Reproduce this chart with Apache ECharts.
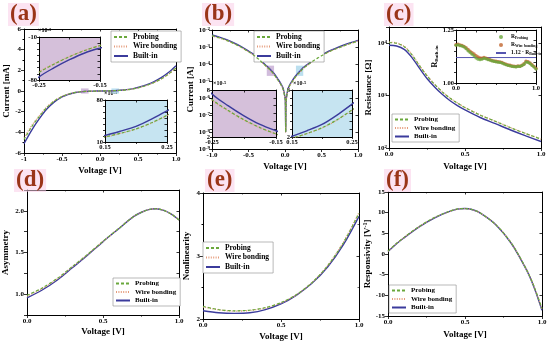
<!DOCTYPE html>
<html><head><meta charset="utf-8">
<script src="https://cdn.jsdelivr.net/npm/echarts@6/dist/echarts.min.js"></script>
<style>html,body{margin:0;padding:0;background:#fff}#c{width:550px;height:343px}</style>
</head><body><div id="c"></div>
<script>
// ---------------- data ----------------
const ivV=[-1.0,-0.9,-0.8,-0.7,-0.6,-0.5,-0.45,-0.4,-0.35,-0.3,-0.25,-0.225,-0.2,-0.175,-0.15,-0.1,-0.05,-0.025,0,0.005,0.01,0.015,0.025,0.05,0.1,0.15,0.175,0.2,0.225,0.25,0.3,0.35,0.4,0.45,0.5,0.6,0.7,0.8,0.9,1.0];
const ivBuilt=[-5.10,-3.80,-2.70,-1.75,-1.05,-0.58,-0.42,-0.29,-0.19,-0.118,-0.075,-0.060,-0.047,-0.036,-0.028,-0.0135,-0.0062,-0.0036,-0.0011,-0.00055,0.00001,0.00055,0.0016,0.0045,0.0105,0.021,0.028,0.036,0.048,0.062,0.090,0.130,0.185,0.255,0.340,0.570,0.870,1.270,1.790,2.450];
const ivProbing=[-4.70,-3.48,-2.47,-1.60,-0.96,-0.53,-0.385,-0.265,-0.174,-0.108,-0.068,-0.054,-0.042,-0.032,-0.024,-0.0118,-0.0055,-0.0032,-0.0010,-0.0005,0.00001,0.0005,0.0014,0.0040,0.0093,0.0185,0.0245,0.0318,0.0420,0.0545,0.081,0.117,0.166,0.229,0.305,0.515,0.785,1.150,1.620,2.230];
const ivWire=[-4.50,-3.36,-2.40,-1.56,-0.94,-0.52,-0.380,-0.262,-0.172,-0.107,-0.067,-0.0535,-0.0415,-0.0318,-0.0238,-0.0117,-0.0055,-0.0032,-0.0010,-0.0005,0.00001,0.0005,0.0014,0.0040,0.0092,0.0183,0.0243,0.0315,0.0415,0.0540,0.080,0.116,0.164,0.227,0.302,0.510,0.778,1.140,1.610,2.210];
const zoomNeg=[-0.25,-0.15];
const zoomPos=[0.15,0.25];

const resV=[0,0.05,0.1,0.15,0.2,0.25,0.3,0.35,0.4,0.45,0.5,0.6,0.7,0.8,0.9,1.0];
const resBuilt=[9000,8700,7500,5300,3300,2100,1450,1050,800,640,530,380,290,220,170,133];
const resProbing=[10100,9800,8450,5950,3700,2360,1620,1170,890,712,588,421,321,243,188,147];
const resWire=[10300,9950,8600,6050,3760,2390,1640,1185,900,720,594,425,324,245,189,148];

const ratioV=[0,0.025,0.05,0.075,0.1,0.125,0.15,0.175,0.2,0.225,0.25,0.275,0.3,0.325,0.35,0.375,0.4,0.425,0.45,0.475,0.5,0.525,0.55,0.575,0.6,0.625,0.65,0.675,0.7,0.725,0.75,0.775,0.8,0.825,0.85,0.875,0.9,0.925,0.95,0.975,1.0];
const ratioWire=[1.180,1.182,1.179,1.177,1.172,1.166,1.158,1.150,1.142,1.136,1.128,1.122,1.118,1.116,1.120,1.117,1.113,1.110,1.106,1.104,1.102,1.100,1.099,1.097,1.092,1.088,1.085,1.083,1.080,1.079,1.078,1.080,1.079,1.084,1.090,1.102,1.100,1.094,1.086,1.078,1.068];
const ratioProbing=[1.178,1.180,1.176,1.174,1.170,1.162,1.152,1.144,1.136,1.128,1.118,1.112,1.110,1.112,1.116,1.114,1.110,1.108,1.104,1.102,1.100,1.098,1.097,1.094,1.090,1.086,1.083,1.081,1.078,1.077,1.076,1.078,1.078,1.082,1.088,1.098,1.097,1.091,1.083,1.075,1.066];
const ratioLineV=[0,1];
const ratioLineY=[1.12,1.12];

const asymV=[0,0.1,0.2,0.3,0.4,0.5,0.6,0.7,0.75,0.8,0.85,0.9,0.95,1.0];
const asymBuilt=[0.955,1.05,1.17,1.32,1.47,1.63,1.78,1.93,1.98,2.015,2.025,2.005,1.96,1.89];
const asymProbing=[0.985,1.075,1.19,1.335,1.48,1.635,1.783,1.93,1.98,2.015,2.025,2.005,1.96,1.89];
const asymWire=[0.975,1.067,1.185,1.33,1.477,1.633,1.782,1.93,1.98,2.015,2.025,2.005,1.96,1.89];

const nlV=[0,0.1,0.2,0.3,0.4,0.5,0.6,0.7,0.8,0.9,1.0];
const nlBuilt=[2.13,2.10,2.09,2.10,2.15,2.24,2.38,2.57,2.83,3.18,3.63];
const nlProbing=[2.20,2.15,2.13,2.14,2.18,2.26,2.39,2.58,2.85,3.21,3.68];
const nlWire=[2.19,2.145,2.125,2.135,2.175,2.255,2.385,2.58,2.85,3.22,3.69];

const respV=[0,0.05,0.1,0.2,0.3,0.4,0.45,0.5,0.55,0.6,0.7,0.8,0.9,0.95,1.0];
const respBuilt=[0.6,2.3,3.8,6.5,8.7,10.3,10.85,11.0,10.7,9.9,7.1,2.6,-3.9,-8.2,-13.6];
const respProbing=[0.7,2.4,3.9,6.6,8.8,10.35,10.9,11.0,10.7,9.9,7.1,2.7,-3.8,-8.0,-13.2];
const respWire=[0.65,2.35,3.85,6.55,8.75,10.3,10.85,11.0,10.7,9.9,7.1,2.65,-3.85,-8.1,-13.4];

const seriesNames=['Probing','Wire bonding','Built-in'];
const panelLabels=['(a)','(b)','(c)','(d)','(e)','(f)'];

// ---------------- helpers ----------------
const F='"Liberation Serif", "Times New Roman", serif';
function merge(a,b){for(const k in b){const v=b[k];if(v&&typeof v==='object'&&!Array.isArray(v)){a[k]=merge(a[k]&&typeof a[k]==='object'?a[k]:{},v);}else a[k]=v;}return a;}
function base(){return {axisLine:{show:true,onZero:false,lineStyle:{color:'#000',width:1}},
  axisTick:{show:true,length:3,lineStyle:{color:'#000',width:0.8}},
  splitLine:{show:false},
  axisLabel:{fontFamily:F,fontWeight:'bold',fontSize:7,color:'#000',margin:3},
  nameTextStyle:{fontFamily:F,fontWeight:'bold',fontSize:9,color:'#000'}};}
const grids=[],xAxes=[],yAxes=[],series=[],legends=[],graphics=[];
function mirror(o,gi,pos){return merge(base(),{gridIndex:gi,type:o.type||'value',min:o.min,max:o.max,interval:o.interval,position:pos,
  axisLabel:{show:false},axisTick:{inside:true,length:2.5},
  minorTick:o.minorTick?{show:true,splitNumber:o.minorTick.splitNumber,length:1.5,lineStyle:{color:'#000',width:0.6}}:{show:false}});}
function addGrid(rect,xo,yo,bg){
  const gi=grids.length;
  grids.push(Object.assign({show:!!bg,backgroundColor:bg||'transparent',borderWidth:0,containLabel:false},rect));
  const xi=xAxes.length,yi=yAxes.length;
  xAxes.push(merge(merge(base(),{gridIndex:gi,type:'value',position:'bottom'}),xo));
  yAxes.push(merge(merge(base(),{gridIndex:gi,type:'value',position:'left'}),yo));
  xAxes.push(mirror(xo,gi,'top'));
  yAxes.push(mirror(yo,gi,'right'));
  return {xi,yi};
}
const ST={'Probing':{color:'#6aa83c',type:[3,2],width:1.2,z:4},
          'Wire bonding':{color:'#e59b7b',type:[1,1.4],width:1.3,z:3},
          'Built-in':{color:'#3b3b9c',type:'solid',width:1.4,z:2}};
function line(name,xs,ys,ax,extra){
  const s=ST[name];
  series.push(Object.assign({name,type:'line',xAxisIndex:ax.xi,yAxisIndex:ax.yi,
    data:xs.map((x,i)=>[x,ys[i]]),showSymbol:false,symbol:'none',smooth:0.3,z:s.z,
    lineStyle:{color:s.color,type:s.type,width:s.width},itemStyle:{color:s.color},silent:true},extra||{}));
}
function three(xs,b,p,w,ax,map){
  const f=map||(v=>v);
  line('Built-in',xs,b.map(f),ax);
  line('Wire bonding',xs,w.map(f),ax);
  line('Probing',xs,p.map(f),ax);
}
function legend(left,top,fs){
  legends.push({left,top,orient:'vertical',data:seriesNames,itemWidth:14,itemHeight:6,itemGap:1.5,
    itemStyle:{opacity:0},
    textStyle:{fontFamily:F,fontWeight:'bold',fontSize:fs||7,color:'#000'},
    borderColor:'#8a8a8a',borderWidth:0.6,padding:[2,4,2,2],backgroundColor:'#fff',selectedMode:false});
}
const near=(a,b)=>Math.abs(a-b)<1e-9;
function minmaxFmt(min,max,fn){return v=>(near(v,min)||near(v,max))?fn(v):'';}
const fx1=v=>near(v,-1)?'-1':(near(v,0)?'0.0':v.toFixed(1));
const fx1b=v=>near(v,0)?'0.0':v.toFixed(1);
const richSup={b:{fontFamily:F,fontWeight:'bold',fontSize:7,color:'#000'},s:{fontFamily:F,fontWeight:'bold',fontSize:5,color:'#000',verticalAlign:'top',lineHeight:5}};
const powFmt=v=>{const e=Math.log10(v);return near(e,Math.round(e))?'{b|10}{s|'+Math.round(e)+'}':'';};
const supName={s:{fontSize:4.5,fontFamily:F,fontWeight:'bold',verticalAlign:'top',lineHeight:4}};

// ---------------- (a) ----------------
const A=addGrid({left:24,top:29,width:152,height:124},
  {min:-1,max:1,interval:0.5,axisLabel:{formatter:fx1},name:'Voltage [V]',nameLocation:'middle',nameGap:13,minorTick:{show:true,splitNumber:2,length:1.5}},
  {min:-6,max:6,interval:2,name:'Current [mA]',nameLocation:'middle',nameGap:11,minorTick:{show:true,splitNumber:2,length:1.5}});
three(ivV,ivBuilt,ivProbing,ivWire,A);
series[series.length-3].markArea={silent:true,itemStyle:{color:'rgba(190,160,205,0.7)'},data:[[{xAxis:zoomNeg[0],yAxis:-0.25},{xAxis:zoomNeg[1],yAxis:0.25}],[{xAxis:zoomPos[0],yAxis:-0.25,itemStyle:{color:'rgba(170,215,235,0.8)'}},{xAxis:zoomPos[1],yAxis:0.25}]]};
legend(111,31,7.5);
const insetAx={fontSize:6.5,margin:2};
const A1=addGrid({left:39,top:37,width:61,height:43},
  {min:zoomNeg[0],max:zoomNeg[1],interval:0.05,axisLabel:Object.assign({formatter:minmaxFmt(zoomNeg[0],zoomNeg[1],v=>v.toFixed(2))},insetAx),axisTick:{length:2}},
  {min:-80,max:-10,interval:10,axisLabel:Object.assign({formatter:minmaxFmt(-80,-10,v=>String(v))},insetAx),axisTick:{length:2},
   name:'×10{s|-3}',nameLocation:'end',nameGap:1,nameTextStyle:{fontSize:6,align:'left',padding:[0,0,0,-1],rich:supName}},
  '#d5c0da');
three(ivV,ivBuilt,ivProbing,ivWire,A1,v=>v*1000);
const A2=addGrid({left:105,top:100,width:62,height:42},
  {min:zoomPos[0],max:zoomPos[1],interval:0.05,axisLabel:Object.assign({formatter:minmaxFmt(zoomPos[0],zoomPos[1],v=>v.toFixed(2))},insetAx),axisTick:{length:2}},
  {min:10,max:80,interval:10,axisLabel:Object.assign({formatter:minmaxFmt(10,80,v=>String(v))},insetAx),axisTick:{length:2},
   name:'×10{s|-3}',nameLocation:'end',nameGap:1,nameTextStyle:{fontSize:6,align:'left',padding:[0,0,0,-1],rich:supName}},
  '#c6e4f1');
three(ivV,ivBuilt,ivProbing,ivWire,A2,v=>v*1000);

// ---------------- (b) ----------------
const toA=v=>Math.abs(v)/1000;
const B=addGrid({left:212,top:30,width:146,height:119},
  {min:-1,max:1,interval:0.5,axisLabel:{formatter:fx1b},name:'Voltage [V]',nameLocation:'middle',nameGap:13,minorTick:{show:true,splitNumber:2,length:1.5}},
  {type:'log',logBase:10,min:1e-9,max:1e-2,interval:1,axisLabel:{formatter:powFmt,rich:richSup,margin:2},name:'Current [A]',nameLocation:'middle',nameGap:17});
three(ivV,ivBuilt,ivProbing,ivWire,B,toA);
series[series.length-3].markArea={silent:true,itemStyle:{color:'rgba(190,160,205,0.7)'},data:[[{xAxis:zoomNeg[0],yAxis:2e-5},{xAxis:zoomNeg[1],yAxis:8e-5}],[{xAxis:zoomPos[0],yAxis:2e-5,itemStyle:{color:'rgba(170,215,235,0.8)'}},{xAxis:zoomPos[1],yAxis:8e-5}]]};
legend(254,31,7.5);
const B1=addGrid({left:212,top:90,width:64,height:47},
  {min:zoomNeg[0],max:zoomNeg[1],interval:0.05,axisLabel:Object.assign({formatter:minmaxFmt(zoomNeg[0],zoomNeg[1],v=>v.toFixed(2))},insetAx),axisTick:{length:2}},
  {min:2,max:8,interval:1,axisLabel:Object.assign({formatter:minmaxFmt(2,8,v=>String(v))},insetAx),axisTick:{length:2},
   name:'×10{s|-5}',nameLocation:'end',nameGap:1,nameTextStyle:{fontSize:6,align:'left',padding:[0,0,0,1],rich:supName}},
  '#d5c0da');
three(ivV,ivBuilt,ivProbing,ivWire,B1,v=>Math.abs(v)*100);
const B2=addGrid({left:292,top:90,width:60,height:47},
  {min:zoomPos[0],max:zoomPos[1],interval:0.05,axisLabel:Object.assign({formatter:minmaxFmt(zoomPos[0],zoomPos[1],v=>v.toFixed(2))},insetAx),axisTick:{length:2}},
  {min:2,max:8,interval:1,axisLabel:Object.assign({formatter:minmaxFmt(2,8,v=>String(v))},insetAx),axisTick:{length:2},
   name:'×10{s|-5}',nameLocation:'end',nameGap:1,nameTextStyle:{fontSize:6,align:'left',padding:[0,0,0,1],rich:supName}},
  '#c6e4f1');
three(ivV,ivBuilt,ivProbing,ivWire,B2,v=>Math.abs(v)*100);

// ---------------- (c) ----------------
const C=addGrid({left:389,top:27,width:152,height:121},
  {min:0,max:1,interval:0.5,axisLabel:{formatter:fx1b},name:'Voltage [V]',nameLocation:'middle',nameGap:14,minorTick:{show:true,splitNumber:2,length:1.5}},
  {type:'log',logBase:10,min:100,max:20000,interval:1,axisLabel:{formatter:powFmt,rich:richSup,margin:2},name:'Resistance [Ω]',nameLocation:'middle',nameGap:15});
three(resV,resBuilt,resProbing,resWire,C);
legend(392,114,7);
const C1=addGrid({left:456,top:30,width:80,height:53},
  {min:0,max:1,interval:0.25,axisLabel:Object.assign({formatter:minmaxFmt(0,1,v=>v.toFixed(1))},insetAx),axisTick:{length:2}},
  {min:1,max:1.25,interval:0.05,axisLabel:Object.assign({formatter:minmaxFmt(1,1.25,v=>v.toFixed(2))},insetAx),axisTick:{length:2},
   name:'R{s|Built-in}',nameLocation:'middle',nameGap:14,nameTextStyle:{fontSize:8,rich:{s:{fontSize:5,fontFamily:F,fontWeight:'bold',verticalAlign:'bottom',lineHeight:5}}}});
series.push({name:'RB',type:'line',xAxisIndex:C1.xi,yAxisIndex:C1.yi,data:ratioLineV.map((x,i)=>[x,ratioLineY[i]]),symbol:'none',showSymbol:false,lineStyle:{color:'#5555b0',width:1},itemStyle:{color:'#5555b0'},z:2,silent:true});
series.push({name:'RW',type:'scatter',xAxisIndex:C1.xi,yAxisIndex:C1.yi,data:ratioV.map((x,i)=>[x,ratioWire[i]]),symbolSize:3.6,itemStyle:{color:'#c0652e'},z:3,silent:true});
series.push({name:'RP',type:'scatter',xAxisIndex:C1.xi,yAxisIndex:C1.yi,data:ratioV.map((x,i)=>[x,ratioProbing[i]]),symbolSize:3.2,itemStyle:{color:'#6aa83c'},z:4,silent:true});
legends.push({left:494,top:33,orient:'vertical',data:[{name:'RP',icon:'circle'},{name:'RW',icon:'circle'},{name:'RB',itemStyle:{opacity:0}}],itemWidth:10,itemHeight:4,itemGap:2,selectedMode:false,
  formatter:n=>({RP:'R{s|Probing}',RW:'R{s|Wire bonding}',RB:'1.12 · R{s|Built-in}'})[n],
  textStyle:{fontFamily:F,fontWeight:'bold',fontSize:5.5,color:'#000',rich:{s:{fontFamily:F,fontWeight:'bold',fontSize:3.8,verticalAlign:'bottom',lineHeight:4}}},padding:[1,1,1,1]});

// ---------------- (d) ----------------
const D=addGrid({left:26,top:190,width:153,height:125},
  {min:0,max:1,interval:0.5,axisLabel:{formatter:fx1b},name:'Voltage [V]',nameLocation:'middle',nameGap:12,minorTick:{show:true,splitNumber:2,length:1.5}},
  {min:0.75,max:2.25,interval:0.25,axisLabel:{formatter:v=>near((v*2)%1,0)?v.toFixed(1):''},name:'Asymmetry',nameLocation:'middle',nameGap:17});
three(asymV,asymBuilt,asymProbing,asymWire,D);
legend(113,278,7);

// ---------------- (e) ----------------
const E=addGrid({left:203,top:193,width:156,height:126},
  {min:0,max:1,interval:0.5,axisLabel:{formatter:fx1b},name:'Voltage [V]',nameLocation:'middle',nameGap:13,minorTick:{show:true,splitNumber:2,length:1.5}},
  {min:2,max:4,interval:1,name:'Nonlinearity',nameLocation:'middle',nameGap:12,minorTick:{show:true,splitNumber:2,length:1.5}});
three(nlV,nlBuilt,nlProbing,nlWire,E);
legend(203,242,7.5);

// ---------------- (f) ----------------
const Fg=addGrid({left:388,top:192,width:154,height:124},
  {min:0,max:1,interval:0.5,axisLabel:{formatter:fx1b},name:'Voltage [V]',nameLocation:'middle',nameGap:14,minorTick:{show:true,splitNumber:2,length:1.5}},
  {min:-15,max:15,interval:5,name:'Responsivity [V{s|-1}]',nameLocation:'middle',nameGap:14,
   nameTextStyle:{rich:{s:{fontFamily:F,fontWeight:'bold',fontSize:6,verticalAlign:'top',lineHeight:6}}}});
three(respV,respBuilt,respProbing,respWire,Fg);
legend(389,285,7);

// ---------------- panel labels ----------------
const labelPos=[[8,3],[202,3],[384,3],[14,169],[205,169],[384,169]];
panelLabels.forEach((t,i)=>graphics.push({type:'text',left:labelPos[i][0],top:labelPos[i][1],z:50,
  style:{text:t,font:'bold 23px "Liberation Serif"',fill:'#9a3518',backgroundColor:'rgba(250,205,232,0.55)',padding:[0,2,0,2]}}));

const chart=echarts.init(document.getElementById('c'),null,{renderer:'canvas'});
chart.setOption({animation:false,backgroundColor:'#fff',grid:grids,xAxis:xAxes,yAxis:yAxes,series,legend:legends,graphic:graphics});
</script></body></html>
